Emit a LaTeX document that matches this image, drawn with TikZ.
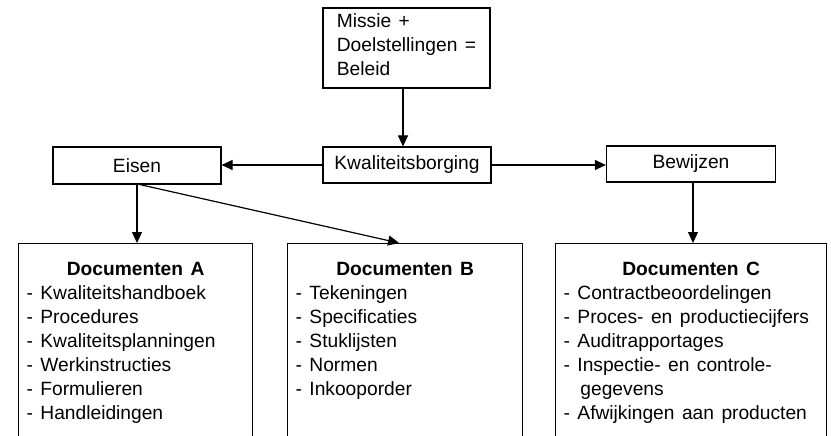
\documentclass[tikz,border=0pt]{standalone}
\usepackage{fontspec}
\setmainfont{Liberation Sans}[WordSpace=1.4]
\usetikzlibrary{arrows.meta}
\newcommand\chartfont{\fontsize{19.2}{24}\selectfont}

\tikzset{
  plainbox/.style={draw, line width=1.2pt, inner sep=0pt, font=\chartfont},
  docbox/.style={plainbox, anchor=north west, inner xsep=8pt, inner ysep=18pt,
                 text height=14pt, text depth=220pt},
  arr/.style={line width=1.2pt, -{Triangle[length=11pt,width=10pt]}},
}

\begin{document}
\begin{tikzpicture}[x=1pt,y=-1pt]
  \useasboundingbox (0,0) rectangle (831,436);
  \fill[white] (0,0) rectangle (831,436);
  \clip (0,0) rectangle (831,436);

  % top row: policy
  \node[plainbox, minimum width=167pt, minimum height=80pt, align=left, text depth=6pt]
    (beleid) at (406.5,48) {Missie +\\Doelstellingen =\\Beleid};

  % middle row
  \node[plainbox, minimum width=168pt, minimum height=37pt] (eisen) at (137,165.5) {Eisen};
  \node[plainbox, minimum width=168pt, minimum height=36pt] (kwal) at (407,165) {Kwaliteitsborging};
  \node[plainbox, minimum width=169pt, minimum height=36pt] (bewijzen) at (691,164) {Bewijzen};

  % document boxes, open towards the bottom
  \node[docbox] (docA) at (18,243) {\begin{minipage}[t]{218pt}\raggedright
    {\centering\textbf{Documenten A}\par}
    - Kwaliteitshandboek\par
    - Procedures\par
    - Kwaliteitsplanningen\par
    - Werkinstructies\par
    - Formulieren\par
    - Handleidingen\par
  \end{minipage}};

  \node[docbox] (docB) at (287,243) {\begin{minipage}[t]{219pt}\raggedright
    {\centering\textbf{Documenten B}\par}
    - Tekeningen\par
    - Specificaties\par
    - Stuklijsten\par
    - Normen\par
    - Inkooporder\par
  \end{minipage}};

  \node[docbox] (docC) at (555,243) {\begin{minipage}[t]{255pt}\raggedright
    {\centering\textbf{Documenten C}\par}
    - Contractbeoordelingen\par
    - Proces- en productiecijfers\par
    - Auditrapportages\par
    - Inspectie- en controle-\par
    \phantom{- }\hspace{3pt}gegevens\par
    - Afwijkingen aan producten\par
  \end{minipage}};

  % connectors
  \draw[arr] ([xshift=-3.5pt]beleid.south) -- ([xshift=-3.5pt]beleid.south |- kwal.north);
  \draw[arr] (kwal.west) -- (kwal.west -| eisen.east);
  \draw[arr] (kwal.east) -- (kwal.east -| bewijzen.west);
  \draw[arr] (eisen.south) -- (eisen.south |- docA.north);
  \draw[arr] ([xshift=3pt]eisen.south) -- ([xshift=-6pt]docB.north);
  \draw[arr] ([xshift=2pt]bewijzen.south) -- ([xshift=2pt]bewijzen.south |- docC.north);
\end{tikzpicture}
\end{document}
